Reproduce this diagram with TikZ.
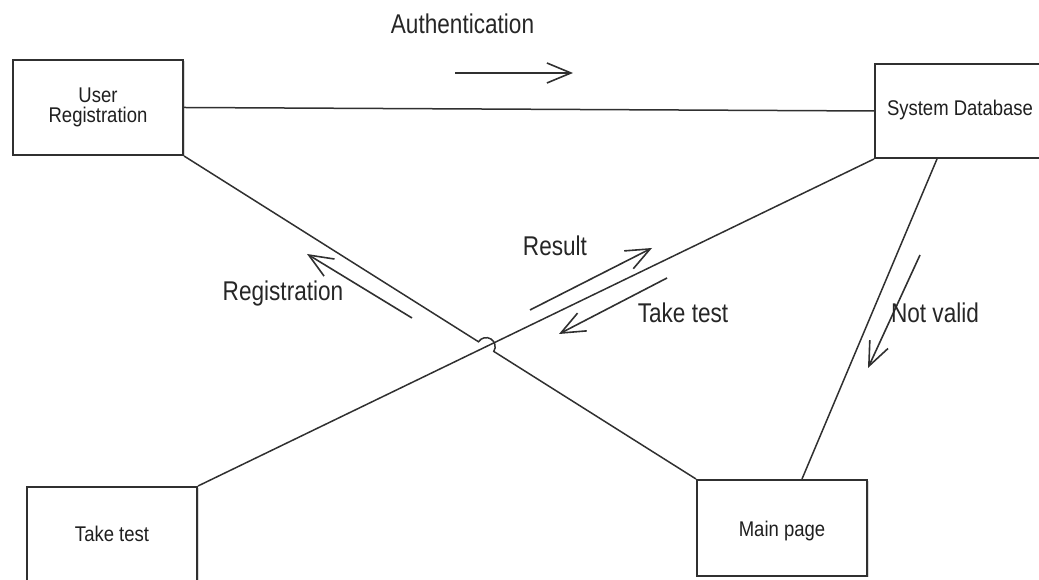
\documentclass[tikz,border=0pt]{standalone}
\usepackage{fontspec}
\setmainfont{Liberation Sans}
\usepackage{graphicx}
\usetikzlibrary{arrows.meta,calc,shadows}
\newcommand{\stretchtxt}[2]{\scalebox{1}[#1]{\begin{tabular}{@{}c@{}}#2\end{tabular}}}
\newcommand{\lowertxt}[2]{\raisebox{-#1}[\dimexpr\height+#1\relax][\dimexpr\depth+#1\relax]{#2}}
\definecolor{ink}{HTML}{303030}
\tikzset{
  box/.style={draw=ink, line width=2pt, fill=white, minimum width=170pt, inner sep=0pt,
    font=\fontsize{18.5}{21}\selectfont, text=black!88,
    drop shadow={shadow xshift=1.5pt, shadow yshift=-1.5pt, opacity=0.3}},
  conn/.style={draw=ink, line width=1.5pt},
  msg/.style={draw=ink, line width=1.6pt, -{Straight Barb[length=24pt,width=20pt,line width=1.6pt]}},
  lbl/.style={anchor=base, inner sep=0pt, text=black!85, font=\fontsize{22.6}{26}\selectfont}
}
\begin{document}
\begin{tikzpicture}[x=1pt,y=1pt]
\useasboundingbox (0,0) rectangle (1039,580);
% boxes
\node[box, minimum height=95pt] (ur) at (98,472.5) {\stretchtxt{1.15}{User\\[-4pt]Registration}};
\node[box, minimum height=94pt] (sd) at (960,469) {\stretchtxt{1.15}{System Database}};
\node[box, minimum height=95pt] (tt) at (112,45.5) {\lowertxt{2pt}{\stretchtxt{1.15}{Take test}}};
\node[box, minimum height=96pt] (mp) at (782,52) {\lowertxt{4pt}{\stretchtxt{1.15}{Main page}}};
% connectors
\draw[conn] (ur.east) -- (sd.west);
\draw[conn] (tt.north east) -- (sd.south west);
\coordinate (X) at (intersection of ur.south east--mp.north west and tt.north east--sd.south west);
\draw[conn] (ur.south east) -- ($(X)!9pt!(ur.south east)$) arc[start angle=147.7, end angle=-32.3, radius=9pt] -- (mp.north west);
\draw[conn] ($(sd.south west)+(63,0)$) coordinate (sdb) -- ($(mp.north west)+(106,0)$) coordinate (mpt);
% message arrows
\coordinate (a1) at (455,507); \coordinate (a2) at (573,507);
\draw[msg] (a1) -- (a2);
\node[lbl] (lauth) at (462.5,547) {\stretchtxt{1.2}{Authentication}};
\coordinate (r1) at (412,262); \coordinate (r2) at (307,326);
\draw[msg] (r1) -- (r2);
\node[lbl] (lreg) at (283,280) {\stretchtxt{1.2}{Registration}};
\coordinate (s1) at (530,270); \coordinate (s2) at (652,332);
\draw[msg] (s1) -- (s2);
\node[lbl] (lres) at (555,325) {\stretchtxt{1.2}{Result}};
\coordinate (t1) at (667,302); \coordinate (t2) at (559,246);
\draw[msg] (t1) -- (t2);
\node[lbl] (ltake) at (683,258) {\stretchtxt{1.2}{Take test}};
\coordinate (n1) at (920,325); \coordinate (n2) at (868,212);
\draw[msg] (n1) -- (n2);
\node[lbl] (lnv) at (935,258) {\stretchtxt{1.2}{Not valid}};
\end{tikzpicture}
\end{document}
